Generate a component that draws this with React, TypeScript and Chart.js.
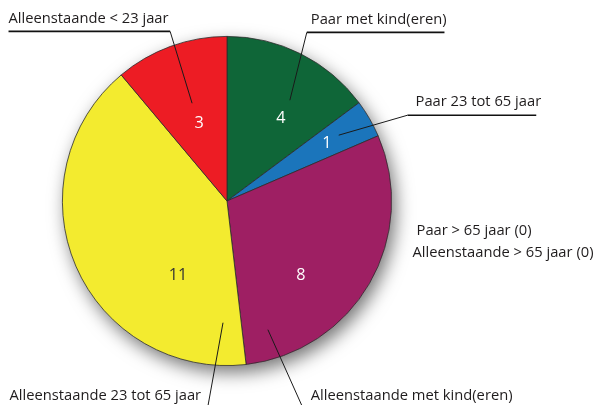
import React, { useEffect, useRef } from "react";
import { Chart, registerables } from "chart.js";

Chart.register(...registerables);

// ---- Data ----
const categories = [
  "Paar met kind(eren)",
  "Paar 23 tot 65 jaar",
  "Alleenstaande met kind(eren)",
  "Alleenstaande 23 tot 65 jaar",
  "Alleenstaande < 23 jaar",
];
const values = [4, 1, 8, 11, 3];
const zeroCategories = ["Paar > 65 jaar (0)", "Alleenstaande > 65 jaar (0)"];

// ---- Styles ----
const sliceColors = ["#0F6638", "#1B75BB", "#9E1F63", "#F3EB2F", "#ED1C24"];
const valueTextColors = ["#ffffff", "#ffffff", "#ffffff", "#333333", "#ffffff"];
// value label offsets relative to pie centre, in units of a 165px radius
const valueOffsets: [number, number][] = [
  [54, -83],
  [100, -58],
  [74, 75],
  [-49, 75],
  [-28, -78],
];
// callouts: text left/middle, optional underline [x1, x2, y], leader [x1,y1,x2,y2] (relative to centre)
type Callout = { text: [number, number]; underline?: [number, number, number]; leader: [number, number, number, number] };
const callouts: Callout[] = [
  { text: [84, -182], underline: [80, 218, -169], leader: [80, -169, 63, -101] },
  { text: [189, -99], underline: [181, 310, -86], leader: [181, -86, 112, -66] },
  { text: [84, 195], leader: [41, 129, 75, 205] },
  { text: [-218, 195], leader: [-4, 122, -19, 205] },
  { text: [-219, -183], underline: [-219, -57, -170], leader: [-57, -170, -35, -98] },
];
const zeroOffsets: [number, number][] = [
  [190, 30],
  [186, 52],
];
const FONT_FAMILY = "'Open Sans', 'Noto Sans', sans-serif";

const annotatePlugin = {
  id: "annotate",
  beforeDatasetsDraw(chart: any) {
    const arc = chart.getDatasetMeta(0).data[0];
    if (!arc) return;
    const { x, y, outerRadius } = arc;
    const ctx = chart.ctx;
    ctx.save();
    ctx.shadowColor = "rgba(0,0,0,0.55)";
    ctx.shadowBlur = 18;
    ctx.shadowOffsetX = 4;
    ctx.shadowOffsetY = 7;
    ctx.beginPath();
    ctx.arc(x, y, outerRadius, 0, Math.PI * 2);
    ctx.fillStyle = "#ffffff";
    ctx.fill();
    ctx.restore();
  },
  afterDatasetsDraw(chart: any) {
    const arc = chart.getDatasetMeta(0).data[0];
    if (!arc) return;
    const cx = arc.x;
    const cy = arc.y;
    const s = arc.outerRadius / 165;
    const px = (d: number) => cx + d * s;
    const py = (d: number) => cy + d * s;
    const ctx = chart.ctx;
    ctx.save();

    // fit font size to reference width
    ctx.font = `14px ${FONT_FAMILY}`;
    const w = ctx.measureText("Alleenstaande < 23 jaar").width;
    const fs = Math.max(11, Math.min(16, (14 * 160) / w));
    const font = `${fs.toFixed(2)}px ${FONT_FAMILY}`;

    // value labels
    ctx.textAlign = "center";
    ctx.textBaseline = "middle";
    ctx.font = `${(fs * 1.1).toFixed(2)}px ${FONT_FAMILY}`;
    values.forEach((v, i) => {
      const [dx, dy] = valueOffsets[i];
      ctx.fillStyle = valueTextColors[i];
      ctx.fillText(String(v), px(dx), py(dy));
    });

    // callouts
    ctx.font = font;
    ctx.textAlign = "left";
    ctx.fillStyle = "#1f1c1d";
    callouts.forEach((c, i) => {
      ctx.fillText(categories[i], px(c.text[0]), py(c.text[1]));
      if (c.underline) {
        ctx.beginPath();
        ctx.lineWidth = 1.6;
        ctx.strokeStyle = "#111111";
        ctx.moveTo(px(c.underline[0]), py(c.underline[2]));
        ctx.lineTo(px(c.underline[1]), py(c.underline[2]));
        ctx.stroke();
      }
      ctx.beginPath();
      ctx.lineWidth = 1;
      ctx.strokeStyle = "#1a1a1a";
      ctx.moveTo(px(c.leader[0]), py(c.leader[1]));
      ctx.lineTo(px(c.leader[2]), py(c.leader[3]));
      ctx.stroke();
    });

    zeroCategories.forEach((t, i) => {
      ctx.fillText(t, px(zeroOffsets[i][0]), py(zeroOffsets[i][1]));
    });
    ctx.restore();
  },
};

export default function App() {
  const ref = useRef<HTMLCanvasElement | null>(null);
  useEffect(() => {
    if (!ref.current) return;
    const chart = new Chart(ref.current, {
      type: "pie",
      data: {
        labels: categories,
        datasets: [
          {
            data: values,
            backgroundColor: sliceColors,
            borderColor: "#2b2b2b",
            borderWidth: 0.8,
          },
        ],
      },
      options: {
        responsive: false,
        animation: false,
        layout: { padding: { left: 62, right: 206, top: 36, bottom: 39 } },
        plugins: {
          legend: { display: false },
          tooltip: { enabled: false },
        },
      },
      plugins: [annotatePlugin],
    });
    return () => chart.destroy();
  }, []);
  return (
    <div style={{ position: "fixed", left: 0, top: 0, width: 598, height: 405, background: "#ffffff" }}>
      <canvas ref={ref} width={598} height={405} style={{ display: "block" }} />
    </div>
  );
}
